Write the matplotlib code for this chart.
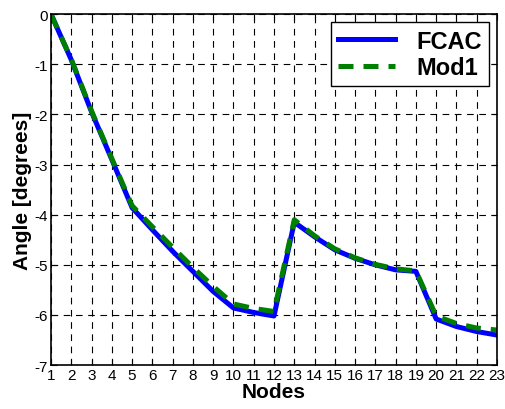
import matplotlib
matplotlib.use("Agg")
import matplotlib.pyplot as plt

plt.rcParams['font.family'] = ['Liberation Sans', 'DejaVu Sans']
plt.rcParams['axes.unicode_minus'] = False

# Datos
nodes = list(range(1, 24))
fcac = [0.0, -0.91, -1.95, -2.9, -3.86, -4.3, -4.73, -5.13, -5.53, -5.86, -5.95, -6.02,
        -4.15, -4.44, -4.7, -4.87, -5.0, -5.1, -5.13, -6.08, -6.23, -6.33, -6.4]
mod1 = [0.0, -0.9, -1.93, -2.88, -3.82, -4.24, -4.65, -5.05, -5.43, -5.78, -5.87, -5.93,
        -4.1, -4.42, -4.68, -4.86, -4.99, -5.08, -5.12, -6.02, -6.17, -6.26, -6.3]

fig = plt.figure(figsize=(5.06, 4.10), dpi=100)
ax = fig.add_axes([0.1008, 0.107, 0.8814, 0.856])

ax.plot(nodes, fcac, color="blue", linewidth=3.6, label="FCAC")
ax.plot(nodes, mod1, color="green", linewidth=3.6, linestyle=(0, (3, 2)), label="Mod1")

ax.set_xlim(1, 23)
ax.set_ylim(-7, 0)
ax.set_xticks(nodes)
ax.set_yticks(range(-7, 1))
ax.tick_params(direction="in", top=True, right=True, labelsize=11, pad=2, length=4)
ax.grid(True, color="black", linestyle=(0, (6, 5)), linewidth=0.8)
for s in ax.spines.values():
    s.set_linewidth(1.2)

ax.set_xlabel("Nodes", fontsize=15, fontweight="bold", labelpad=0)
ax.set_ylabel("Angle [degrees]", fontsize=15, fontweight="bold", labelpad=2)

leg = ax.legend(loc="upper right", fancybox=False, framealpha=1, edgecolor="black",
                prop={"size": 17, "weight": "bold"}, handlelength=2.4,
                borderaxespad=0.35, borderpad=0.3, labelspacing=0.15, handletextpad=0.9)
leg.get_frame().set_linewidth(1.0)

plt.savefig("out.png", dpi=100)
